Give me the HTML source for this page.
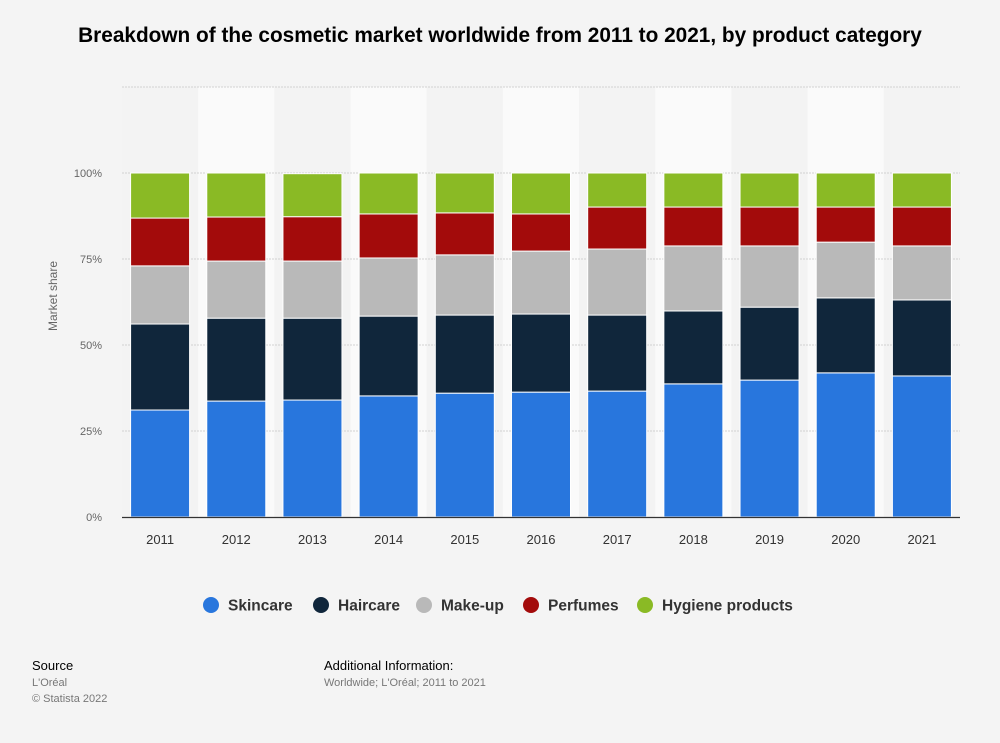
<!DOCTYPE html>
<html><head><meta charset="utf-8"><style>
body{margin:0;background:#f4f4f4;font-family:"Liberation Sans",Arial,sans-serif;}
</style></head><body>
<svg id="c" width="1000" height="743" style="display:block">
<rect width="1000" height="743" fill="#f4f4f4"/>
<text x="500" y="42" text-anchor="middle" font-size="20.8" font-weight="bold" fill="#000">Breakdown of the cosmetic market worldwide from 2011 to 2021, by product category</text>
<text transform="translate(57,296) rotate(-90)" text-anchor="middle" font-size="12" fill="#666">Market share</text>
<g id="bands"></g><g id="grid"></g><g id="bars"></g><g id="xt"></g>
<line x1="122" y1="517.5" x2="960" y2="517.5" stroke="#333" stroke-width="1.3"/>
<g id="legend"></g>
<text x="32" y="670" font-size="13" fill="#000">Source</text>
<text x="32" y="686" font-size="11" fill="#777">L'Oréal</text>
<text x="32" y="702" font-size="11" fill="#777">© Statista 2022</text>
<text x="324" y="670" font-size="13" fill="#000">Additional Information:</text>
<text x="324" y="686" font-size="11" fill="#777">Worldwide; L'Oréal; 2011 to 2021</text>
</svg>
<script>
const years=["2011","2012","2013","2014","2015","2016","2017","2018","2019","2020","2021"];
const skincare=[31.1,33.7,34,35.2,36,36.3,36.6,38.7,39.8,41.9,41];
const haircare=[25,24.1,23.8,23.2,22.7,22.7,22.1,21.2,21.2,21.8,22.1];
const makeup=[16.9,16.6,16.6,16.9,17.5,18.3,19.2,18.9,17.8,16.2,15.7];
const perfumes=[13.9,12.8,12.9,12.8,12.2,10.8,12.2,11.3,11.3,10.2,11.3];
const hygiene=[13.1,12.8,12.5,11.9,11.6,11.9,9.9,9.9,9.9,9.9,9.9];
const ticks=[0,25,50,75,100,125];
const tickLabels=["0%","25%","50%","75%","100%",""];
const seriesNames=["Skincare","Haircare","Make-up","Perfumes","Hygiene products"];
const colors=["#2876dd","#10263b","#b9b9b9","#a30b0b","#8aba25"];
const NS="http://www.w3.org/2000/svg";
const X0=122,X1=960,Y0=517,Y100=173;
const bw=(X1-X0)/years.length;
const y=v=>Y0-(Y0-Y100)*v/100;
const xc=i=>X0+bw*(i+0.5);
function mk(t,a,p){const e=document.createElementNS(NS,t);for(const k in a)e.setAttribute(k,a[k]);p.appendChild(e);return e;}
const bands=document.getElementById('bands');
years.forEach((yr,i)=>{
 const r=mk('rect',{x:X0+bw*i,y:y(125),width:bw,height:y(0)-y(125),fill:i%2?'#fafafa':'#f3f3f3'},bands);
 
 
});
const grid=document.getElementById('grid');
ticks.forEach((t,i)=>{
 if(t>0){const l=mk('line',{x1:X0,x2:X1,y1:y(t),y2:y(t),stroke:'#d2d2d2','stroke-dasharray':'2,1'},grid);
 
 }
 if(tickLabels[i]){const tx=mk('text',{x:102,y:y(t)+4,'text-anchor':'end','font-size':11,fill:'#666'},grid);tx.textContent=tickLabels[i];
 
 }
});
const series=[skincare,haircare,makeup,perfumes,hygiene];
const bars=document.getElementById('bars');
years.forEach((yr,i)=>{
 let acc=0;
 series.forEach((s,k)=>{
  const v=s[i];
  const r=mk('rect',{x:xc(i)-29.5,y:y(acc+v),width:59,height:y(acc)-y(acc+v),fill:colors[k],stroke:'#fff','stroke-width':1},bars);
  
  
  acc+=v;
 });
 const t=mk('text',{x:xc(i),y:544,'text-anchor':'middle','font-size':13,fill:'#333'},document.getElementById('xt'));
 t.textContent=yr;
 
 
});
const lg=document.getElementById('legend');
const lx=[211,321,424,531,645];
seriesNames.forEach((n,k)=>{
 const g=mk('g',{},lg);
 
 
 mk('circle',{cx:lx[k],cy:605,r:8,fill:colors[k]},g);
 const t=mk('text',{x:lx[k]+17,y:610.5,'font-size':15.5,'font-weight':'bold',fill:'#333'},g);
 t.textContent=n;
});
</script>
</body></html>
